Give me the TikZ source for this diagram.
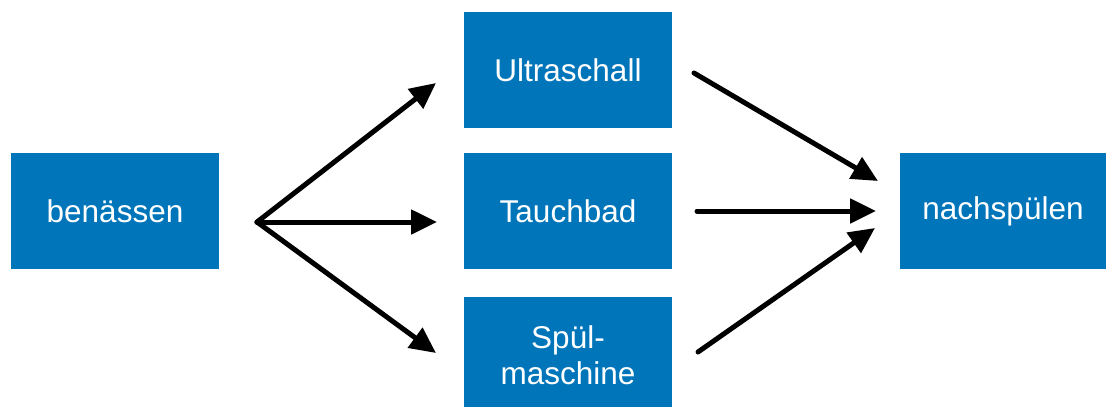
\documentclass[tikz,border=0pt]{standalone}
\usepackage{fontspec}
\setmainfont{Liberation Sans}
\usetikzlibrary{arrows.meta}
\definecolor{boxblue}{RGB}{0,117,186}
\begin{document}
\begin{tikzpicture}[x=1pt,y=-1pt,
  stepbox/.style={fill=boxblue,draw=none,text=white,minimum width=208pt,minimum height=116pt,inner sep=0pt,font=\fontsize{31.5}{36}\selectfont,align=center},
  conn/.style={line width=5pt,line cap=round,line join=round,-{Triangle[length=26pt,width=24pt]}}]
\useasboundingbox (0,0) rectangle (1106,407);
\node[stepbox] (ben) at (115,211) {benässen};
\node[stepbox] (ult) at (568,70) {Ultraschall};
\node[stepbox] (tau) at (568,211) {Tauchbad};
\node[stepbox] (spu) at (568,355) {Spül-\\maschine};
\node[stepbox,minimum width=206pt] (nach) at (1003,211) {nachspülen};
\coordinate (s) at (257,222);
\coordinate (uin) at (436,83);
\coordinate (tin) at (437,222);
\coordinate (sin) at (436,353);
\coordinate (uout) at (694,73);
\coordinate (tout) at (697,211);
\coordinate (sout) at (698,352);
\coordinate (n1) at (878,181);
\coordinate (n2) at (876,211);
\coordinate (n3) at (875,228);
\draw[conn] (s) -- (uin);
\draw[conn] (s) -- (tin);
\draw[conn] (s) -- (sin);
\draw[conn] (uout) -- (n1);
\draw[conn] (tout) -- (n2);
\draw[conn] (sout) -- (n3);
\end{tikzpicture}
\end{document}
